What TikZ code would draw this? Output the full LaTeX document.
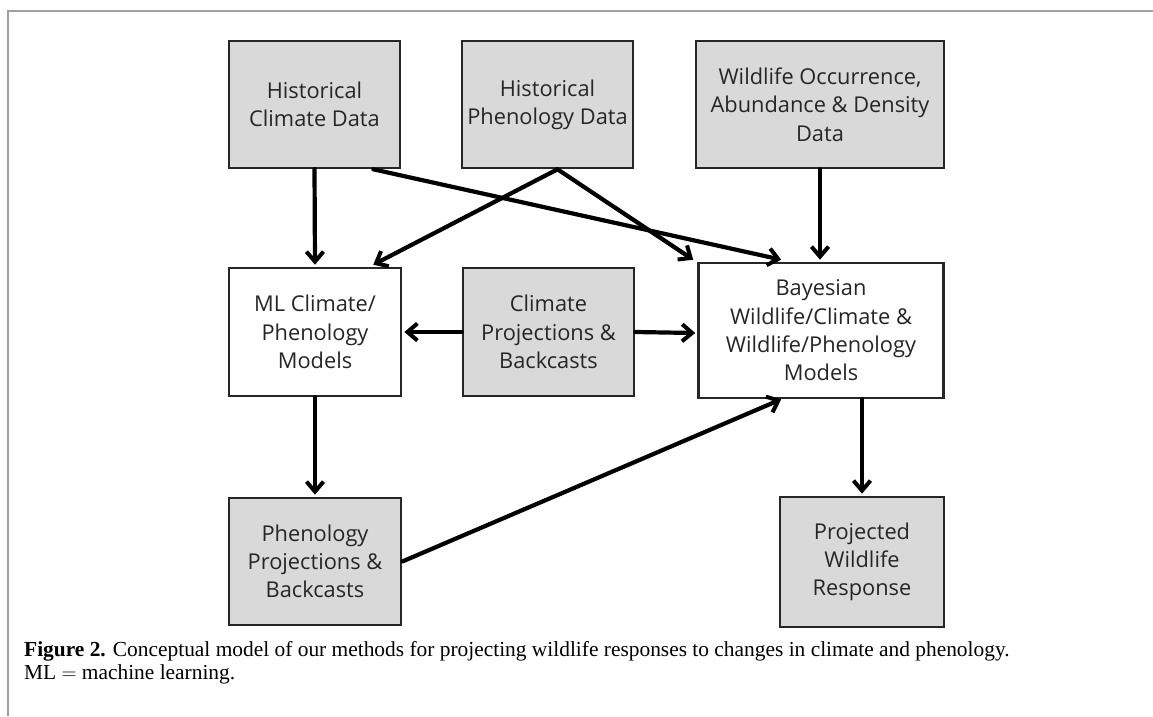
\documentclass[tikz,border=0pt]{standalone}
\usepackage{fontspec}
\setmainfont{Liberation Serif}
\newfontfamily\boxfont{Open Sans}
\usetikzlibrary{arrows.meta,calc}
\definecolor{boxgray}{HTML}{D9D9D9}
\definecolor{framegray}{HTML}{A0A0A0}
\tikzset{
  base/.style={draw=black!85, line width=2.6pt, rectangle, align=center, inner sep=0pt,
    font=\boxfont\fontsize{21.8}{28.3}\selectfont, text=black!85},
  gbox/.style={base, fill=boxgray},
  wbox/.style={base, fill=white},
  conn/.style={line width=4.2pt, draw=black, line cap=round,
    -{Straight Barb[length=10pt,width=17pt,line width=4pt]}},
  captext/.style={anchor=base west, inner sep=0pt, font=\fontsize{21.4}{23}\selectfont},
}
\begin{document}
\begin{tikzpicture}[x=1pt,y=-1pt]
\useasboundingbox (0,0) rectangle (1153,716);
% frame
\draw[framegray, line width=1.6pt] (8,716) -- (8,11) -- (1153,11);
% boxes
\node[gbox, minimum width=171pt, minimum height=127pt] (hcd) at (314.5,104.5) {Historical\\Climate Data};
\node[gbox, minimum width=171pt, minimum height=127pt] (hpd) at (547.5,104.5) {Historical\\Phenology Data};
\node[gbox, minimum width=248pt, minimum height=127pt] (woad) at (820,104.5) {Wildlife Occurrence,\\Abundance \& Density\\Data};
\node[wbox, minimum width=172pt, minimum height=128pt] (ml) at (315,332) {ML Climate/\\Phenology\\Models};
\node[gbox, minimum width=171pt, minimum height=128pt] (cpb) at (548.5,332) {Climate\\Projections \&\\Backcasts};
\node[wbox, minimum width=245pt, minimum height=135pt] (bay) at (821,330.5) {Bayesian\\Wildlife/Climate \&\\Wildlife/Phenology\\Models};
\node[gbox, minimum width=172pt, minimum height=127pt] (ppb) at (315,561.5) {Phenology\\Projections \&\\Backcasts};
\node[gbox, minimum width=164pt, minimum height=130pt] (pwr) at (862,562) {Projected\\Wildlife\\Response};
% connectors
\draw[conn] (hcd.south) -- ($(ml.north)+(0,-2)$);
\draw[conn] ($(hcd.south east)+(-28,0)$) -- ($(bay.north west)+(84,-2)$);
\draw[conn] ($(hpd.south)+(10,0)$) -- ($(ml.north east)+(-29,-2)$);
\draw[conn] ($(hpd.south)+(10,0)$) -- ($(bay.north west)+(-4,-2)$);
\draw[conn] (woad.south) -- ($(bay.north)+(-1,-2)$);
\draw[conn] (cpb.west) -- ($(ml.east)+(2,0)$);
\draw[conn] (cpb.east) -- ($(bay.west)+(-2,2.5)$);
\draw[conn] (ml.south) -- ($(ppb.north)+(0,-2)$);
\draw[conn] (ppb.east) -- ($(bay.south west)+(84,0)$);
\draw[conn] ($(bay.south)+(41,0)$) -- ($(pwr.north)+(0,-2)$);
% caption
\node[captext] (cap1) at (24,656)
  {\textbf{Figure 2.} Conceptual model of our methods for projecting wildlife responses to changes in climate and phenology.};
\node[captext] (cap2) at (24,679)
  {ML $=$ machine learning.};
\end{tikzpicture}
\end{document}
